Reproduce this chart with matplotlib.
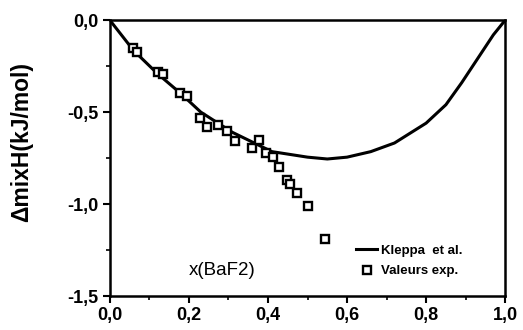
import matplotlib
matplotlib.use("Agg")
import matplotlib.pyplot as plt
from matplotlib.ticker import MultipleLocator, FuncFormatter

plt.rcParams['font.family'] = ['Liberation Sans', 'DejaVu Sans']

# Kleppa et al. curve
kleppa_x = [0.0, 0.06, 0.12, 0.18, 0.23, 0.31, 0.41, 0.50, 0.55, 0.60, 0.66, 0.72, 0.80, 0.85, 0.89, 0.93, 0.97, 1.0]
kleppa_y = [0.0, -0.165, -0.29, -0.40, -0.50, -0.61, -0.715, -0.745, -0.755, -0.745, -0.715, -0.668, -0.56, -0.46, -0.34, -0.21, -0.08, 0.0]

# experimental values
exp_x = [0.058, 0.068, 0.122, 0.134, 0.177, 0.195, 0.228, 0.246, 0.273, 0.296, 0.316,
         0.359, 0.377, 0.395, 0.413, 0.428, 0.448, 0.456, 0.473, 0.501, 0.544]
exp_y = [-0.152, -0.174, -0.283, -0.293, -0.397, -0.413, -0.533, -0.582, -0.571, -0.603, -0.658,
         -0.696, -0.652, -0.723, -0.745, -0.799, -0.870, -0.891, -0.940, -1.011, -1.190]

fig = plt.figure(figsize=(5.23, 3.3), dpi=100)
ax = fig.add_axes([0.210, 0.103, 0.756, 0.836])

ax.plot(kleppa_x, kleppa_y, color='black', lw=2.2, label='Kleppa  et al.')
ax.plot(exp_x, exp_y, ls='none', marker='s', ms=5.5, mfc='white', mec='black', mew=1.7,
        label='Valeurs exp.')

ax.set_xlim(0, 1.0)
ax.set_ylim(-1.5, 0.0)
ax.xaxis.set_major_locator(MultipleLocator(0.2))
ax.xaxis.set_minor_locator(MultipleLocator(0.1))
ax.yaxis.set_major_locator(MultipleLocator(0.5))
ax.yaxis.set_minor_locator(MultipleLocator(0.25))
comma = FuncFormatter(lambda v, p: ('%.1f' % v).replace('.', ','))
ax.xaxis.set_major_formatter(comma)
ax.yaxis.set_major_formatter(comma)
ax.tick_params(which='major', direction='out', length=5, width=1.5, labelsize=13, pad=3)
ax.tick_params(which='minor', direction='out', length=3, width=1.2)
for lab in ax.get_xticklabels() + ax.get_yticklabels():
    lab.set_fontweight('bold')
for s in ax.spines.values():
    s.set_linewidth(1.8)

ax.set_ylabel('\u0394mixH(kJ/mol)', fontsize=16.5, fontweight='bold')
ax.yaxis.set_label_coords(-0.195, 0.56)
ax.text(0.285, -1.36, 'x(BaF2)', fontsize=13.5, ha='center', va='center')

leg = ax.legend(loc='upper left', bbox_to_anchor=(0.61, 0.205), frameon=False,
                handlelength=1.6, handletextpad=0.3, borderaxespad=0.0, labelspacing=0.6,
                prop={'weight': 'bold', 'size': 9.5})

fig.savefig('out.png', dpi=100)
